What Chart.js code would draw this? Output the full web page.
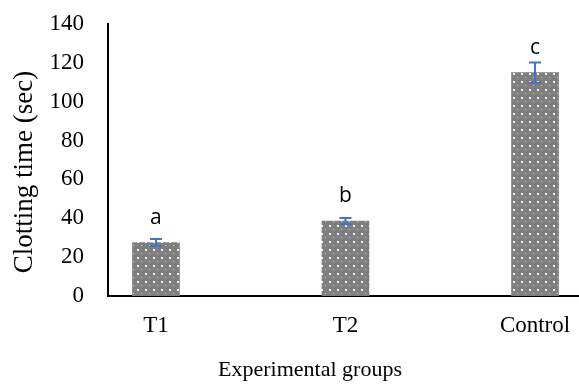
<!DOCTYPE html>
<html>
<head>
<meta charset="utf-8">
<script src="https://cdn.jsdelivr.net/npm/chart.js@4.4.1/dist/chart.umd.min.js"></script>
<style>
  html, body { margin: 0; padding: 0; background: #fff; }
  #wrap { width: 579px; height: 384px; }
</style>
</head>
<body>
<div id="wrap"><canvas id="clotChart" width="579" height="384"></canvas></div>
<script>
'use strict';

var groups = ['T1', 'T2', 'Control'];
var clottingTime = [27.5, 38.5, 115];
var errorSize = [1.8, 1.6, 5.2];
var sigLetters = ['a', 'b', 'c'];
var yTicks = [0, 20, 40, 60, 80, 100, 120, 140];
var xTitle = 'Experimental groups';
var yTitle = 'Clotting time (sec)';

function dotPattern() {
    var c = document.createElement('canvas');
    c.width = 8;
    c.height = 8;
    var g = c.getContext('2d');
    g.fillStyle = '#7f7f7f';
    g.fillRect(0, 0, 8, 8);
    g.fillStyle = '#f2f2f2';
    g.fillRect(1, 1, 2, 2);
    g.fillStyle = '#d0d0d0';
    g.fillRect(5, 5, 1, 1);
    return g.createPattern(c, 'repeat');
}

// error bars, significance letters and axis titles (Excel centres them on the whole chart)
var extras = {
    id: 'extras',
    afterDatasetsDraw: function(chart) {
        var ctx = chart.ctx;
        var xs = chart.scales.x, ys = chart.scales.y;
        ctx.save();
        ctx.strokeStyle = '#4472c4';
        ctx.lineWidth = 2;
        clottingTime.forEach(function(v, i) {
            var x = xs.getPixelForValue(i);
            var top = ys.getPixelForValue(v + errorSize[i]);
            var bot = ys.getPixelForValue(v - errorSize[i]);
            ctx.beginPath();
            ctx.moveTo(x, top); ctx.lineTo(x, bot);
            ctx.moveTo(x - 6, top); ctx.lineTo(x + 6, top);
            ctx.moveTo(x - 6, bot); ctx.lineTo(x + 6, bot);
            ctx.stroke();

            ctx.fillStyle = '#000';
            ctx.font = '21px "Open Sans"';
            ctx.textAlign = 'center';
            ctx.textBaseline = 'alphabetic';
            ctx.fillText(sigLetters[i], x, ys.getPixelForValue(v) - 19);
        });

        ctx.fillStyle = '#000';
        ctx.textAlign = 'center';
        ctx.textBaseline = 'middle';
        ctx.font = '22px "Liberation Serif"';
        ctx.fillText(xTitle, 310, xs.bottom - 14);

        ctx.translate(25, (ys.top + ys.bottom) / 2 + 12);
        ctx.rotate(-Math.PI / 2);
        ctx.font = '27px "Liberation Serif"';
        ctx.fillText(yTitle, 0, 0);
        ctx.restore();
    }
};

var ctx = document.getElementById('clotChart').getContext('2d');
new Chart(ctx, {
    type: 'bar',
    data: {
        datasets: [{
            data: clottingTime.map(function(v, i) { return { x: i, y: v }; }),
            backgroundColor: dotPattern(),
            borderWidth: 0,
            barThickness: 47
        }]
    },
    options: {
        responsive: false,
        animation: false,
        layout: { padding: { top: 24, right: 0, bottom: 0, left: 0 } },
        plugins: { legend: { display: false }, tooltip: { enabled: false } },
        scales: {
            x: {
                type: 'linear',
                offset: false,
                min: -0.253,
                max: 2.232,
                afterBuildTicks: function(axis) {
                    axis.ticks = groups.map(function(g, i) { return { value: i }; });
                },
                afterFit: function(scale) {
                    scale.height = 88;
                    scale.paddingLeft = 0;
                    scale.paddingRight = 0;
                },
                grid: { display: false, drawTicks: false, tickLength: 0 },
                border: { display: true, color: '#000', width: 2 },
                ticks: {
                    padding: 16,
                    maxRotation: 0,
                    color: '#000',
                    font: { family: '"Liberation Serif"', size: 23 },
                    callback: function(v) { return groups[v]; }
                }
            },
            y: {
                min: 0,
                max: 140,
                afterBuildTicks: function(axis) {
                    axis.ticks = yTicks.map(function(t) { return { value: t }; });
                },
                afterFit: function(scale) {
                    scale.width = 108;
                    scale.paddingTop = 0;
                    scale.paddingBottom = 0;
                },
                grid: { display: false, drawTicks: false, tickLength: 0 },
                border: { display: true, color: '#000', width: 2 },
                ticks: {
                    padding: 24,
                    color: '#000',
                    font: { family: '"Liberation Serif"', size: 23 }
                }
            }
        }
    },
    plugins: [extras]
});
</script>
</body>
</html>
